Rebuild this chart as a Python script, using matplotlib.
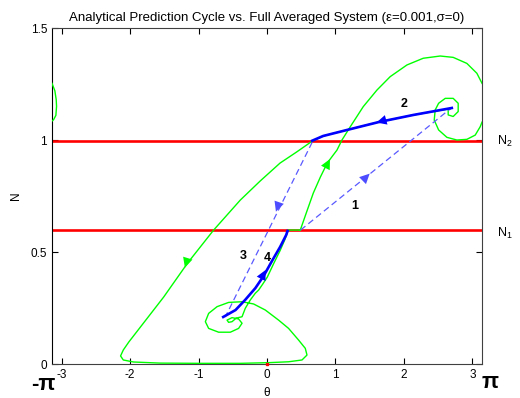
import numpy as np
import matplotlib
matplotlib.use('Agg')
import matplotlib.pyplot as plt

plt.rcParams['font.family'] = ['Liberation Sans', 'DejaVu Sans']
plt.rcParams['mathtext.fontset'] = 'custom'
plt.rcParams['mathtext.rm'] = 'Liberation Sans'

# switching levels
N1 = 0.598
N2 = 0.995

# full averaged system trajectory (theta, N), wraps at +-pi
traj_theta = [0.486, 0.58, 0.676, 0.78, 0.88, 0.96, 1.022, 1.095, 1.216, 1.406, 1.606,
              1.80, 2.044, 2.282, 2.53, 2.72, 2.92, 3.066, 3.1416,
              -3.1416, -3.10, -3.08, -3.075, -3.085, -3.12, -3.1416,
              3.1416, 3.114, 3.042, 2.92, 2.774, 2.628, 2.507, 2.443, 2.457, 2.507, 2.604,
              2.72, 2.793, 2.793, 2.72, 2.647, 2.647, 2.68,
              2.14, 1.63, 1.17, 0.82, 0.66,
              0.43, 0.19, -0.10, -0.39, -0.78, -1.16, -1.51, -1.85, -2.02, -2.10, -2.14,
              -2.10, -1.95, -1.56, -0.97, -0.39, 0.023, 0.315, 0.511, 0.584, 0.559, 0.461,
              0.315, 0.169, -0.025, -0.196, -0.365, -0.561, -0.730, -0.853, -0.901, -0.853,
              -0.707, -0.536, -0.415, -0.365, -0.415, -0.511, -0.584, -0.561, -0.511,
              -0.45, -0.365, -0.317, -0.244, -0.171, -0.123, -0.06, 0.004, 0.10, 0.195,
              0.26, 0.31, 0.486]
traj_N = [0.598, 0.68, 0.763, 0.835, 0.897, 0.93, 0.955, 1.0, 1.059, 1.149, 1.223,
          1.283, 1.335, 1.365, 1.375, 1.369, 1.342, 1.298, 1.253,
          1.253, 1.22, 1.18, 1.15, 1.11, 1.09, 1.085,
          1.08, 1.059, 1.022, 1.003, 1.0, 1.012, 1.045, 1.089, 1.134, 1.164, 1.186,
          1.186, 1.164, 1.127, 1.105, 1.112, 1.134, 1.14,
          1.112, 1.080, 1.045, 1.018, 0.995,
          0.946, 0.897, 0.817, 0.732, 0.598, 0.451, 0.299, 0.165, 0.098, 0.0625, 0.036,
          0.018, 0.009, 0.004, 0.003, 0.003, 0.006, 0.010, 0.018, 0.040, 0.070, 0.107,
          0.159, 0.196, 0.241, 0.268, 0.278, 0.275, 0.256, 0.226, 0.189, 0.159,
          0.142, 0.142, 0.159, 0.182, 0.201, 0.207, 0.196, 0.186, 0.189,
          0.205, 0.211, 0.249, 0.286, 0.316, 0.330, 0.358, 0.388, 0.45, 0.509,
          0.555, 0.598, 0.598]

# analytical prediction: slow branches (solid) and jumps (dashed)
branch2_theta = [2.70, 2.14, 1.63, 1.17, 0.82, 0.66]
branch2_N = [1.143, 1.112, 1.080, 1.045, 1.018, 0.997]
branch4_theta = [-0.64, -0.46, -0.32, -0.17, -0.05, 0.08, 0.19, 0.28, 0.30]
branch4_N = [0.21, 0.241, 0.286, 0.339, 0.393, 0.464, 0.522, 0.576, 0.594]
jump1_theta = [0.49, 2.68]
jump1_N = [0.598, 1.14]
jump3_theta = [0.66, -0.61]
jump3_N = [0.99, 0.21]

seg_labels = ['1', '2', '3', '4']
seg_label_theta = [1.28, 2.0, -0.35, 0.0]
seg_label_N = [0.705, 1.16, 0.48, 0.475]

th = np.array(traj_theta)
nn = np.array(traj_N)
# break the line where theta wraps around
jumps = np.where(np.abs(np.diff(th)) > np.pi)[0] + 1
th = np.insert(th, jumps, np.nan)
nn = np.insert(nn, jumps, np.nan)

fig = plt.figure(figsize=(5.2, 3.98), dpi=100)
ax = fig.add_axes([0.1, 0.0854, 0.827, 0.8442])

ax.axhline(N2, color='red', lw=1.9, zorder=2)
ax.axhline(N1, color='red', lw=1.9, zorder=2)
ax.plot(th, nn, color=(0, 1, 0), lw=1.0, zorder=3)
ax.plot(jump1_theta, jump1_N, color=(0.35, 0.35, 1), lw=0.9, dashes=(5, 3), zorder=4)
ax.plot(jump3_theta, jump3_N, color=(0.35, 0.35, 1), lw=0.9, dashes=(5, 3), zorder=4)
ax.plot(branch2_theta, branch2_N, color='blue', lw=1.9, zorder=5)
ax.plot(branch4_theta, branch4_N, color='blue', lw=1.9, zorder=5)
ax.plot([0], [0], 's', color='red', ms=1.5, clip_on=False, zorder=6)


def head(tail, tip, color):
    ax.annotate('', xy=tip, xytext=tail,
                arrowprops=dict(arrowstyle='-|>,head_length=0.45,head_width=0.22',
                                color=color, lw=0, mutation_scale=16,
                                shrinkA=0, shrinkB=0), zorder=7)


head((0.84, 0.868), (0.92, 0.915), (0, 1, 0))
head((-1.10, 0.53), (-1.20, 0.43), (0, 1, 0))
head((1.80, 1.095), (1.60, 1.078), 'blue')
head((-0.12, 0.36), (-0.02, 0.42), 'blue')
head((1.30, 0.79), (1.50, 0.85), (0.3, 0.3, 1))
head((0.22, 0.76), (0.13, 0.68), (0.3, 0.3, 1))

for lab, x, y in zip(seg_labels, seg_label_theta, seg_label_N):
    ax.text(x, y, lab, fontsize=9, fontweight='bold', ha='center', va='center')

ax.set_xlim(-np.pi, np.pi)
ax.set_ylim(0, 1.5)
ax.set_xticks([-3, -2, -1, 0, 1, 2, 3])
ax.set_yticks([0, 0.5, 1, 1.5])
ax.set_xticklabels(['-3', '-2', '-1', '0', '1', '2', '3'])
ax.set_yticklabels(['0', '0.5', '1', '1.5'])
ax.tick_params(direction='in', top=True, right=True, labelsize=8.5, length=4, width=0.8)
for s in ax.spines.values():
    s.set_linewidth(0.8)
    s.set_color('#404040')
ax.spines['left'].set_color('black')

ax.set_title('Analytical Prediction Cycle vs. Full Averaged System (\u03b5=0.001,\u03c3=0)',
             fontsize=9.5, pad=5)
ax.set_xlabel('\u03b8', fontsize=8.5)
ax.set_ylabel('N', fontsize=8.5)
ax.xaxis.set_label_coords(0.5, -0.068)
ax.yaxis.set_label_coords(-0.07, 0.5)

fig.text(43 / 520, 1 - 385 / 398, '-\u03c0', fontsize=16, fontweight='bold',
         ha='center', va='center')
fig.text(490 / 520, 1 - 383 / 398, '\u03c0', fontsize=16, fontweight='bold',
         ha='center', va='center')
fig.text(497 / 520, 1 - 141 / 398, 'N$_\\mathregular{2}$', fontsize=9, ha='left', va='center')
fig.text(497 / 520, 1 - 233 / 398, 'N$_\\mathregular{1}$', fontsize=9, ha='left', va='center')

fig.savefig('out.png', dpi=100)
